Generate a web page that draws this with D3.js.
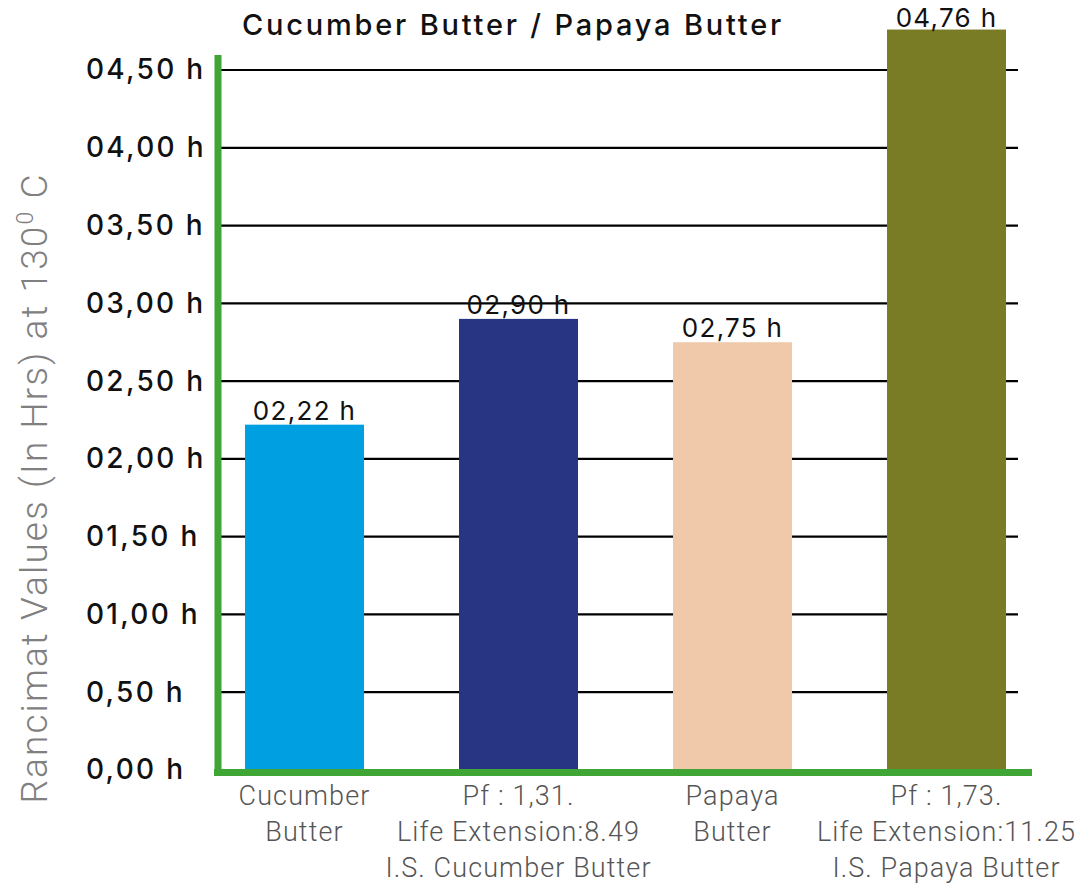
<!DOCTYPE html>
<html><head><meta charset="utf-8">
<script src="https://cdn.jsdelivr.net/npm/d3@7"></script>
<style>html,body{margin:0;padding:0;background:#fff;} svg{display:block;}</style>
</head><body><svg id="chart" width="1079" height="889"></svg>
<script>
// ---- data ----
const chartTitle = "Cucumber Butter / Papaya Butter";
const categories = ["Cucumber Butter", "Cucumber Butter + I.S.", "Papaya Butter", "Papaya Butter + I.S."];
const values = [2.22, 2.90, 2.75, 4.76];
const valueLabels = ["02,22 h", "02,90 h", "02,75 h", "04,76 h"];
const categoryLines = [
  ["Cucumber", "Butter"],
  ["Pf : 1,31.", "Life Extension:8.49", "I.S. Cucumber Butter"],
  ["Papaya", "Butter"],
  ["Pf : 1,73.", "Life Extension:11.25", "I.S. Papaya Butter"]
];
const tickValues = [0, 0.5, 1, 1.5, 2, 2.5, 3, 3.5, 4, 4.5];
const tickLabels = ["0,00 h", "0,50 h", "01,00 h", "01,50 h", "02,00 h", "02,50 h", "03,00 h", "03,50 h", "04,00 h", "04,50 h"];
const yTitleMain = "Rancimat Values (In Hrs)  at 130";
const yTitleSup = "0";
const yTitleEnd = " C";

// ---- styles ----
const barColors = ["#009fe1", "#283583", "#f0c9aa", "#7a7c25"];
const green = "#3fa535";
const font = "Inter, 'Noto Sans', sans-serif";
const lightFont = "Roboto, 'Noto Sans', sans-serif";

// ---- layout ----
const W = 1079, H = 889;
const plotLeft = 218, plotRight = 1018, baseY = 770, topY = 70;

const svg = d3.select("#chart");
svg.append("rect").attr("width", W).attr("height", H).attr("fill", "#fff");

const x = d3.scaleBand().domain(categories).range([245, 1006]).paddingInner(0.444).paddingOuter(0);
const y = d3.scaleLinear().domain([0, 4.5]).range([baseY, topY]);

// gridlines
svg.append("g").selectAll("line").data(tickValues.filter(d => d > 0)).join("line")
  .attr("x1", plotLeft).attr("x2", plotRight)
  .attr("y1", d => y(d)).attr("y2", d => y(d))
  .attr("stroke", "#000").attr("stroke-width", 2.2);

// bars
svg.append("g").selectAll("rect").data(values).join("rect")
  .attr("x", (d, i) => x(categories[i]))
  .attr("width", x.bandwidth())
  .attr("y", d => y(d))
  .attr("height", d => y(0) - y(d))
  .attr("fill", (d, i) => barColors[i]);

// value labels
svg.append("g").selectAll("text").data(values).join("text")
  .attr("x", (d, i) => x(categories[i]) + x.bandwidth() / 2)
  .attr("y", d => Math.max(y(d) - 5, 27))
  .attr("text-anchor", "middle")
  .attr("font-family", font).attr("font-size", 26).attr("font-weight", 400)
  .attr("letter-spacing", 1.3)
  .attr("fill", "#111")
  .text((d, i) => valueLabels[i]);

// green axes
svg.append("line").attr("x1", plotLeft).attr("x2", plotLeft).attr("y1", 55).attr("y2", 776)
  .attr("stroke", green).attr("stroke-width", 7);
svg.append("line").attr("x1", 214).attr("x2", 1032).attr("y1", 772.5).attr("y2", 772.5)
  .attr("stroke", green).attr("stroke-width", 7);

// y tick labels via axis
const yAxis = d3.axisLeft(y).tickValues(tickValues)
  .tickFormat((d, i) => tickLabels[i]).tickSize(0).tickPadding(0);
const gy = svg.append("g").attr("transform", "translate(86,0)").call(yAxis);
gy.select(".domain").remove();
gy.selectAll("text")
  .attr("x", 0).attr("text-anchor", "start")
  .attr("font-family", font).attr("font-size", 28).attr("font-weight", 500)
  .attr("letter-spacing", 2.3)
  .attr("fill", "#111");

// category labels
const cg = svg.append("g").selectAll("g").data(categoryLines).join("g")
  .attr("transform", (d, i) => `translate(${x(categories[i]) + x.bandwidth() / 2},0)`);
cg.selectAll("text").data(d => d).join("text")
  .attr("x", 0).attr("y", (d, j) => 805 + j * 36)
  .attr("text-anchor", "middle")
  .attr("font-family", lightFont).attr("font-size", 27).attr("font-weight", 300)
  .attr("letter-spacing", 1.1)
  .attr("fill", "#555")
  .text(d => d);

// title
svg.append("text").attr("x", 513).attr("y", 35).attr("text-anchor", "middle")
  .attr("font-family", font).attr("font-size", 29).attr("font-weight", 500)
  .attr("letter-spacing", 2.8)
  .attr("fill", "#111").text(chartTitle);

// y axis title
const yt = svg.append("text")
  .attr("transform", "translate(47,488) rotate(-90)")
  .attr("text-anchor", "middle")
  .attr("font-family", lightFont).attr("font-size", 37).attr("font-weight", 300)
  .attr("letter-spacing", 2.1)
  .attr("fill", "#808080");
yt.append("tspan").text(yTitleMain);
yt.append("tspan").attr("font-size", 23).attr("dy", -14).text(yTitleSup);
yt.append("tspan").attr("dy", 14).text(yTitleEnd);
</script>
</body></html>
